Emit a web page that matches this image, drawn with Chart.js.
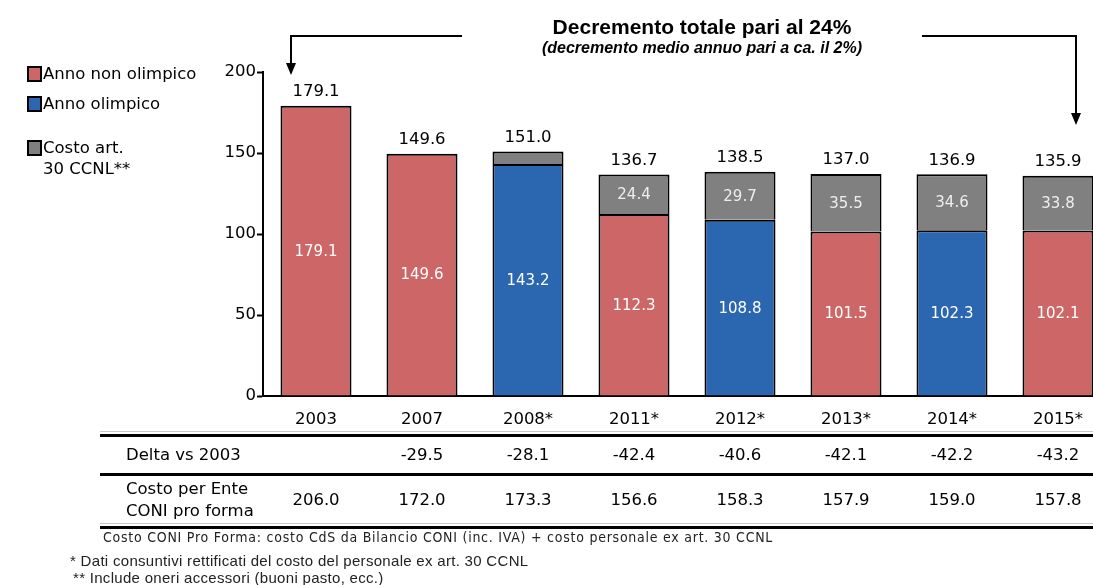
<!DOCTYPE html>
<html>
<head>
<meta charset="utf-8">
<script src="https://cdn.jsdelivr.net/npm/chart.js@4.4.0/dist/chart.umd.min.js"></script>
<style>
  html, body { margin: 0; padding: 0; background: #fff; overflow: hidden; }
  body { width: 1093px; height: 585px; position: relative; font-family: "DejaVu Sans", Verdana, sans-serif; }
  #wrap { position: absolute; left: 0; top: 0; width: 1120px; height: 585px; }
  .legend { position: absolute; left: 27px; font-size: 16.5px; color: #000; }
  .legend .sw { position: absolute; left: 0; width: 11px; height: 12px; border: 2px solid #000; }
  .legend .tx { position: absolute; left: 16px; white-space: nowrap; line-height: 21px; }
  .title { position: absolute; left: 452px; width: 500px; text-align: center; font-family: "Liberation Sans", Arial, sans-serif; color: #000; }
  .note { position: absolute; white-space: nowrap; color: #222; }
</style>
</head>
<body>
<div id="wrap"><canvas id="costChart" width="1120" height="585"></canvas></div>

<div class="legend" style="top:66px"><div class="sw" style="background:#CD6666"></div><div class="tx" style="top:-3px">Anno non olimpico</div></div>
<div class="legend" style="top:96px"><div class="sw" style="background:#2B66B1"></div><div class="tx" style="top:-3px">Anno olimpico</div></div>
<div class="legend" style="top:140px"><div class="sw" style="background:#808080"></div><div class="tx" style="top:-3px">Costo art.<br>30 CCNL**</div></div>

<div class="title" style="top:15px; font-size:21px; font-weight:bold;">Decremento totale pari al 24%</div>
<div class="title" style="top:39px; font-size:16px; font-weight:bold; font-style:italic;">(decremento medio annuo pari a ca. il 2%)</div>

<div class="note" style="left:103px; top:529px; font-family:'DejaVu Sans Condensed','DejaVu Sans',sans-serif; font-size:14px; letter-spacing:0.75px;">Costo CONI Pro Forma: costo CdS da Bilancio CONI (inc. IVA) + costo personale ex art. 30 CCNL</div>
<div class="note" style="left:70px; top:552px; font-family:'Liberation Sans Narrow','Liberation Sans',sans-serif; font-size:15px; letter-spacing:0.3px;">* Dati consuntivi rettificati del costo del personale ex art. 30 CCNL</div>
<div class="note" style="left:73px; top:569px; font-family:'Liberation Sans Narrow','Liberation Sans',sans-serif; font-size:15px; letter-spacing:0.3px;">** Include oneri accessori (buoni pasto, ecc.)</div>

<script>
const years = ['2003', '2007', '2008*', '2011*', '2012*', '2013*', '2014*', '2015*'];
const nonOlimpico = [179.1, 149.6, null, 112.3, null, 101.5, null, 102.1];
const olimpico = [null, null, 143.2, null, 108.8, null, 102.3, null];
const costoArt30 = [null, null, 7.8, 24.4, 29.7, 35.5, 34.6, 33.8];
const totali = [179.1, 149.6, 151.0, 136.7, 138.5, 137.0, 136.9, 135.9];
const deltaVs2003 = ['', '-29.5', '-28.1', '-42.4', '-40.6', '-42.1', '-42.2', '-43.2'];
const costoEnte = ['206.0', '172.0', '173.3', '156.6', '158.3', '157.9', '159.0', '157.8'];
const yTicks = [0, 50, 100, 150, 200];

const FONT = '"DejaVu Sans", Verdana, sans-serif';

// value labels inside the bars + totals on top
const labelsPlugin = {
    id: 'barLabels',
    afterDatasetsDraw(chart) {
        const ctx = chart.ctx;
        const y = chart.scales.y;
        ctx.save();
        ctx.textAlign = 'center';
        ctx.textBaseline = 'middle';
        chart.data.datasets.forEach((ds, di) => {
            const meta = chart.getDatasetMeta(di);
            meta.data.forEach((bar, i) => {
                const v = ds.data[i];
                if (v == null || v < 10) return;
                ctx.font = '15px ' + FONT;
                ctx.fillStyle = di === 2 ? '#eeeeee' : '#ffffff';
                ctx.fillText(v.toFixed(1), bar.x, (bar.y + bar.base) / 2 + 1);
            });
        });
        ctx.font = '16.5px ' + FONT;
        ctx.fillStyle = '#000';
        totali.forEach((t, i) => {
            const x = chart.scales.x.getPixelForValue(i);
            ctx.fillText(t.toFixed(1), x, y.getPixelForValue(t) - 14);
        });
        ctx.restore();
    },
    afterDraw(chart) {
        const ctx = chart.ctx;
        const x = chart.scales.x;
        ctx.save();
        // table
        ctx.fillStyle = '#000';
        ctx.fillRect(100, 434, 1000, 3);
        ctx.fillRect(100, 473, 1000, 3);
        ctx.fillRect(100, 526, 1000, 3);
        ctx.fillStyle = '#c8c8c8';
        ctx.fillRect(100, 431, 1000, 1);
        ctx.fillRect(100, 523, 1000, 1);

        ctx.fillStyle = '#000';
        ctx.font = '16.5px ' + FONT;
        ctx.textBaseline = 'middle';
        ctx.textAlign = 'left';
        ctx.fillText('Delta vs 2003', 126, 456);
        ctx.fillText('Costo per Ente', 126, 490);
        ctx.fillText('CONI pro forma', 126, 512);
        ctx.textAlign = 'center';
        years.forEach((yr, i) => {
            const px = x.getPixelForValue(i);
            ctx.fillText(deltaVs2003[i], px, 456);
            ctx.fillText(costoEnte[i], px, 501);
        });

        // bracket with arrows
        const lx = x.getPixelForValue(0) - 25;
        const rx = x.getPixelForValue(years.length - 1) + 18;
        ctx.strokeStyle = '#000';
        ctx.lineWidth = 2;
        ctx.beginPath();
        ctx.moveTo(lx, 66); ctx.lineTo(lx, 36); ctx.lineTo(462, 36);
        ctx.moveTo(922, 36); ctx.lineTo(rx, 36); ctx.lineTo(rx, 116);
        ctx.stroke();
        ctx.beginPath();
        ctx.moveTo(lx - 5, 63); ctx.lineTo(lx + 5, 63); ctx.lineTo(lx, 75); ctx.closePath();
        ctx.moveTo(rx - 5, 113); ctx.lineTo(rx + 5, 113); ctx.lineTo(rx, 125); ctx.closePath();
        ctx.fill();
        ctx.restore();
    }
};

new Chart('costChart', {
    type: 'bar',
    data: {
        labels: years,
        datasets: [
            { label: 'Anno non olimpico', data: nonOlimpico, backgroundColor: '#CD6666' },
            { label: 'Anno olimpico', data: olimpico, backgroundColor: '#2B66B1' },
            { label: 'Costo art. 30 CCNL**', data: costoArt30, backgroundColor: '#808080' }
        ]
    },
    options: {
        responsive: false,
        animation: false,
        devicePixelRatio: 1,
        layout: { padding: { top: 72, right: 9, left: 0, bottom: 0 } },
        datasets: {
            bar: {
                borderColor: '#000',
                borderWidth: 2,
                barPercentage: 0.67,
                categoryPercentage: 1.0,
                skipNull: false
            }
        },
        plugins: { legend: { display: false }, tooltip: { enabled: false } },
        scales: {
            x: {
                stacked: true,
                grid: { display: false },
                border: { display: true, color: '#000', width: 2 },
                ticks: { color: '#000', font: { family: FONT, size: 16.5 }, padding: 6 },
                afterFit(scale) { scale.height = 189; }
            },
            y: {
                stacked: true,
                min: 0,
                max: 200,
                afterBuildTicks(scale) { scale.ticks = yTicks.map(v => ({ value: v })); },
                grid: { drawOnChartArea: false, drawTicks: true, tickLength: 6, tickColor: '#000', tickWidth: 2 },
                border: { display: true, color: '#000', width: 2 },
                ticks: { color: '#000', font: { family: FONT, size: 16.5 }, padding: 1 },
                afterFit(scale) { scale.width = 263; }
            }
        }
    },
    plugins: [labelsPlugin]
});
</script>
</body>
</html>
